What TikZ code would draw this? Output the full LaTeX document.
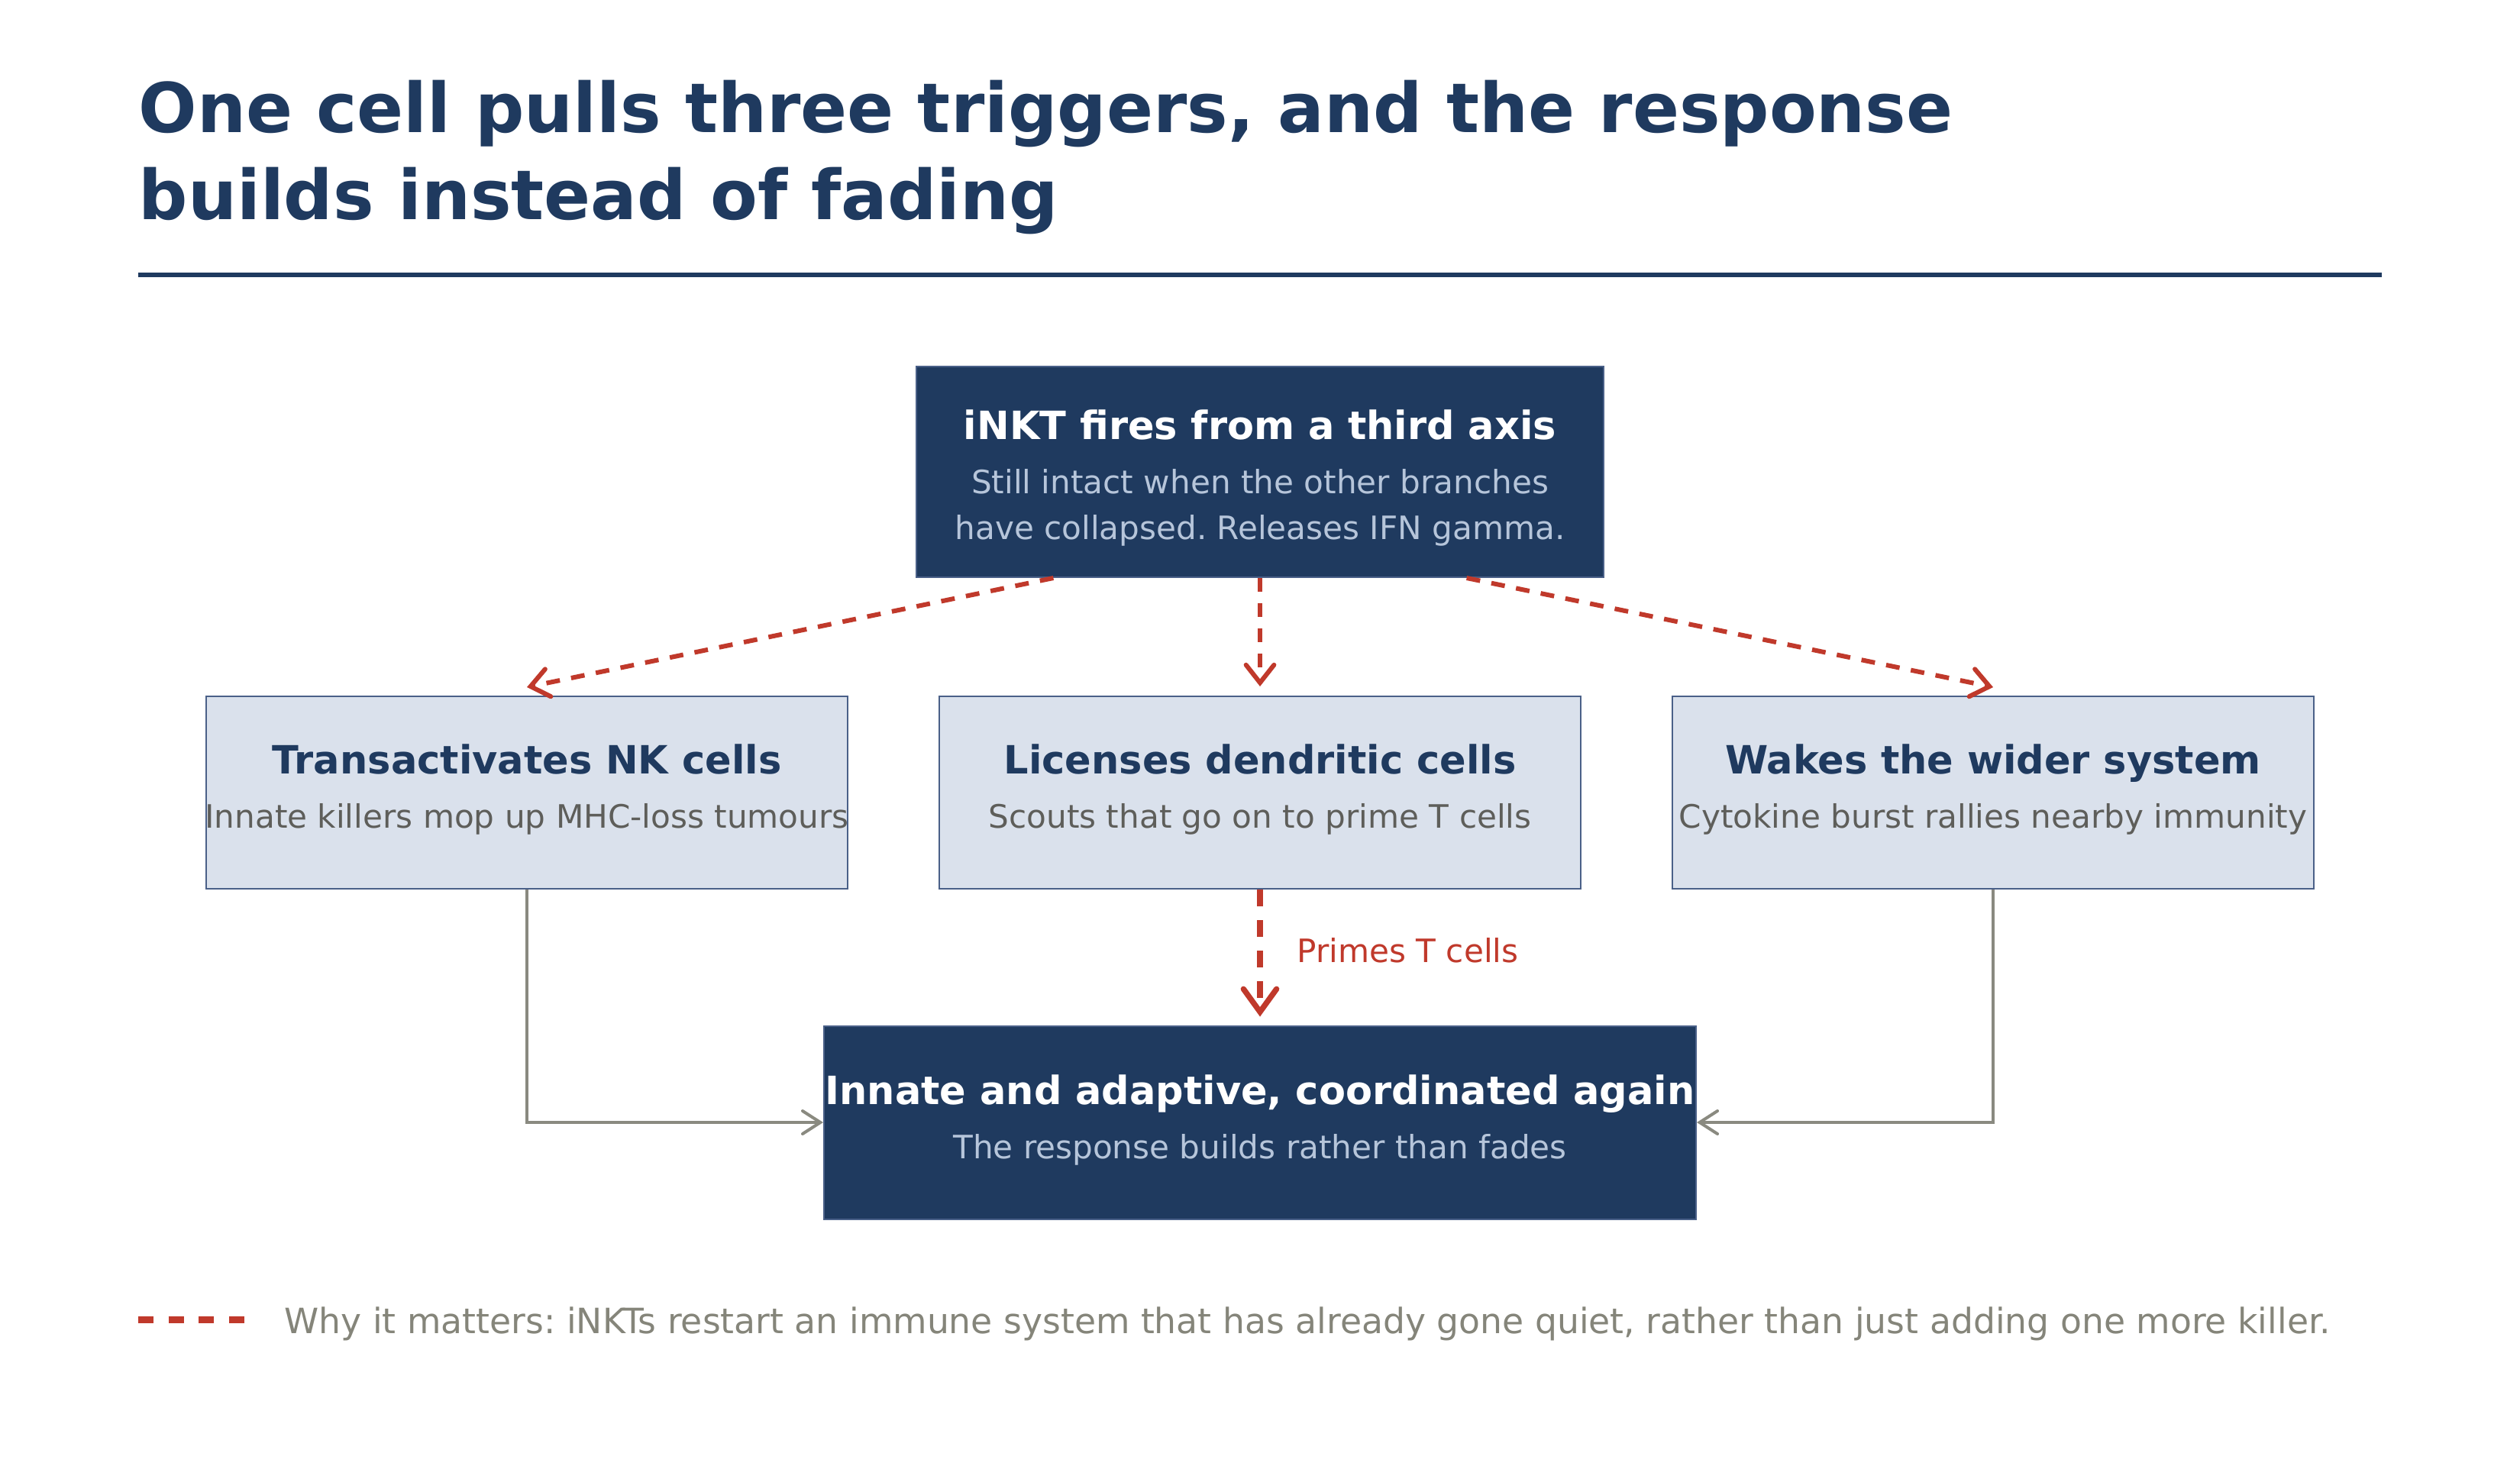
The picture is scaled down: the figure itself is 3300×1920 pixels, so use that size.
\documentclass[tikz,border=0pt]{standalone}
\usepackage{fontspec}
\setmainfont{DejaVu Sans}
\usetikzlibrary{arrows.meta,calc}
\frenchspacing
\definecolor{navy}{HTML}{1F3A5F}
\definecolor{accred}{HTML}{C0392B}
\definecolor{lightfill}{HTML}{DAE1EC}
\definecolor{boxedge}{HTML}{4A6088}
\definecolor{subgrey}{HTML}{5E5E5A}
\definecolor{sublight}{HTML}{B6C5DA}
\definecolor{linkgrey}{HTML}{8A8A80}
\definecolor{notegrey}{HTML}{85857A}
\tikzset{
  darkbox/.style={draw=boxedge, line width=0.6pt, fill=navy, inner sep=0pt},
  lightbox/.style={draw=boxedge, line width=0.6pt, fill=lightfill, inner sep=0pt},
  headtxt/.style={anchor=base, inner sep=0pt, font=\fontsize{15.3}{18}\selectfont\bfseries},
  subtxt/.style={anchor=base, inner sep=0pt, font=\fontsize{12.65}{15}\selectfont},
  redarrow/.style={draw=accred, line width=1.8pt, dash pattern=on 5.4pt off 4.5pt,
     -{Straight Barb[length=7pt,width=11pt,line cap=round]}},
  thickred/.style={draw=accred, line width=2.2pt, dash pattern=on 6.6pt off 5.4pt,
     -{Straight Barb[length=9pt,width=13pt,line cap=round]}, shorten >=3.3pt},
  greyarrow/.style={draw=linkgrey, line width=1.2pt,
     -{Straight Barb[length=7pt,width=9pt,line cap=round]}},
}
\begin{document}
\begin{tikzpicture}[x=0.3pt,y=-0.3pt]
\useasboundingbox[fill=white] (0,0) rectangle (3300,1920);
% title
\node[anchor=base west, inner sep=0pt, text=navy, font=\fontsize{27}{33}\selectfont\bfseries] (title1) at (181,174) {One cell pulls three triggers, and the response};
\node[anchor=base west, inner sep=0pt, text=navy, font=\fontsize{27}{33}\selectfont\bfseries] (title2) at (181,288) {builds instead of fading};
\draw[navy, line width=1.8pt] (181,360) -- (3119,360);
% boxes
\node[darkbox, minimum width=270pt, minimum height=82.8pt] (top) at (1650,618) {};
\node[lightbox, minimum width=252pt, minimum height=75.6pt] (left) at (690,1038) {};
\node[lightbox, minimum width=252pt, minimum height=75.6pt] (mid) at (1650,1038) {};
\node[lightbox, minimum width=252pt, minimum height=75.6pt] (right) at (2610,1038) {};
\node[darkbox, minimum width=342.6pt, minimum height=75.9pt] (bot) at (1650,1470) {};
% texts
\node[headtxt, text=white] (topH) at (1650,576) {iNKT fires from a third axis};
\node[subtxt, text=sublight] (topS1) at (1650,647) {Still intact when the other branches};
\node[subtxt, text=sublight] (topS2) at (1650,707) {have collapsed. Releases IFN gamma.};
\node[headtxt, text=navy] (leftH) at (690,1013) {Transactivates NK cells};
\node[subtxt, text=subgrey] (leftS) at (690,1084) {Innate killers mop up MHC-loss tumours};
\node[headtxt, text=navy] (midH) at (1650,1013) {Licenses dendritic cells};
\node[subtxt, text=subgrey] (midS) at (1650,1084) {Scouts that go on to prime T cells};
\node[headtxt, text=navy] (rightH) at (2610,1013) {Wakes the wider system};
\node[subtxt, text=subgrey] (rightS) at (2610,1084) {Cytokine burst rallies nearby immunity};
\node[headtxt, text=white] (botH) at (1650,1446) {Innate and adaptive, coordinated again};
\node[subtxt, text=sublight] (botS) at (1650,1517) {The response builds rather than fades};
% connectors
\draw[redarrow] ($(top.south west)!0.2!(top.south east)$) -- ($(left.north)+(0,-11)$);
\draw[redarrow] (top.south) -- ($(mid.north)+(0,-12)$);
\draw[redarrow] ($(top.south west)!0.8!(top.south east)$) -- ($(right.north)+(0,-11)$);
\draw[thickred] (mid.south) -- (bot.north);
\node[anchor=base west, inner sep=0pt, text=accred, font=\fontsize{12.65}{15}\selectfont] (primes) at (1698,1260) {Primes T cells};
\draw[greyarrow] (left.south) |- (bot.west);
\draw[greyarrow] (right.south) |- (bot.east);
% legend
\coordinate (lg1) at (181,1728);
\coordinate (lg2) at (320,1728);
\draw[accred, line width=2.7pt, dash pattern=on 6pt off 5.9pt] (lg1) -- (lg2);
\node[anchor=base west, inner sep=0pt, text=notegrey, font=\fontsize{13.7}{16}\selectfont] (note) at (372,1746) {Why it matters: iNKTs restart an immune system that has already gone quiet, rather than just adding one more killer.};
\end{tikzpicture}
\end{document}
